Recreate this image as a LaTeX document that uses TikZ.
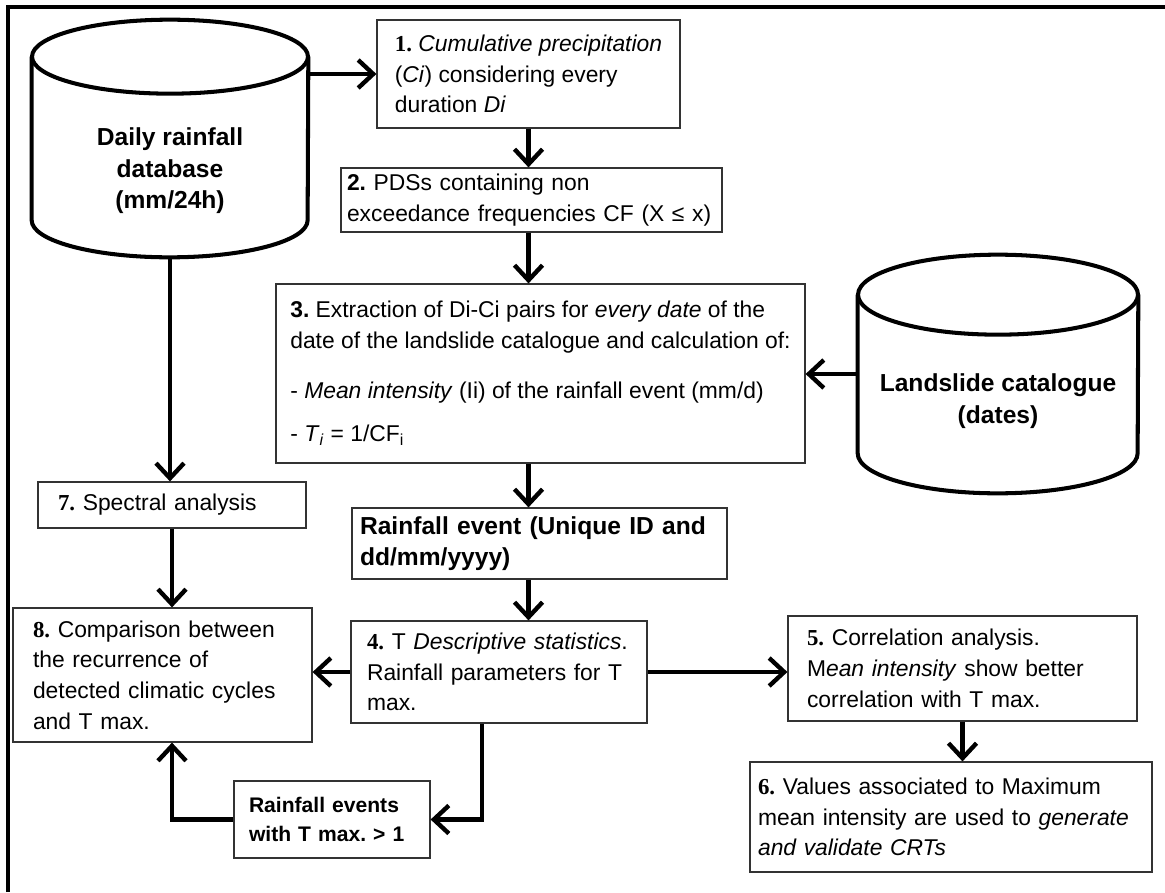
\documentclass[tikz,border=0pt]{standalone}
\usepackage{fontspec}
\setmainfont{Liberation Sans}
\newfontfamily\numfont{Liberation Serif}
\usetikzlibrary{arrows.meta}
\frenchspacing
\newcommand{\stepno}[1]{{\numfont\bfseries #1.}}
\tikzset{
  procbox/.style={draw=black!80, line width=0.7pt, rectangle, align=left, inner ysep=0pt, font=\fontsize{13}{17.5}\selectfont},
  boldbox/.style={procbox, font=\fontsize{14}{18}\selectfont\bfseries},
  cylbody/.style={inner sep=0pt},
  cyltext/.style={align=center, font=\fontsize{14}{18}\selectfont\bfseries},
  cyl/.style={line width=2.3pt},
  flow/.style={line width=2.5pt, -{Straight Barb[length=0.3cm,width=0.56cm]}}
}

\begin{document}
\begin{tikzpicture}[x=0.02cm, y=-0.02cm]
  \useasboundingbox (0,0) rectangle (1165,892);
  \draw[line width=2pt] (8,892) -- (8,7) -- (1165,7);

  % data sources
  \node[cylbody, minimum width=5.52cm, minimum height=4.74cm] (rain) at (170,138.5) {};
  \draw[cyl] ([yshift=-0.74cm]rain.north west) -- ([yshift=0.74cm]rain.south west)
    arc[start angle=180, end angle=360, x radius=2.76cm, y radius=0.74cm] -- ([yshift=-0.74cm]rain.north east);
  \draw[cyl] ([yshift=-0.74cm]rain.north) ellipse[x radius=2.76cm, y radius=0.74cm];
  \node[cyltext] (raintxt) at (170,171) {Daily rainfall\\database\\(mm/24h)};

  \node[cylbody, minimum width=5.6cm, minimum height=4.76cm] (slide) at (998,374) {};
  \draw[cyl] ([yshift=-0.8cm]slide.north west) -- ([yshift=0.8cm]slide.south west)
    arc[start angle=180, end angle=360, x radius=2.8cm, y radius=0.8cm] -- ([yshift=-0.8cm]slide.north east);
  \draw[cyl] ([yshift=-0.8cm]slide.north) ellipse[x radius=2.8cm, y radius=0.8cm];
  \node[cyltext] (slidetxt) at (998,401) {Landslide catalogue\\(dates)};

  % steps
  \node[procbox, inner xsep=0.2cm, minimum width=6.06cm, minimum height=2.16cm] (b1) at (528.5,74)
    {\stepno{1} \textit{Cumulative precipitation}\\(\textit{Ci}) considering every\\duration \textit{Di}};
  \node[procbox, text width=7.38cm, inner xsep=0.12cm, minimum height=1.28cm] (b2) at (531.5,200)
    {\textbf{2.} PDSs containing non\\exceedance frequencies CF (X ≤ x)};
  \node[procbox, inner xsep=0.2cm, minimum width=10.58cm, minimum height=3.58cm] (b3) at (540.5,373.5)
    {\textbf{3.} Extraction of Di-Ci pairs for \textit{every date} of the\\
     date of the landslide catalogue and calculation of:\\[11pt]
     - \textit{Mean intensity} (Ii) of the rainfall event (mm/d)\\[7pt]
     - \textit{T}\textsubscript{\textit{i}} = 1/CF\textsubscript{i}};
  \node[boldbox, text width=7.18cm, inner xsep=0.16cm, minimum height=1.42cm] (bre) at (539.5,543.5)
    {Rainfall event (Unique ID and\\dd/mm/yyyy)};
  \node[procbox, text width=5.28cm, inner xsep=0.32cm, minimum height=2.04cm] (b4) at (499,672)
    {\stepno{4} T \textit{Descriptive statistics}.\\Rainfall parameters for T\\max.};
  \node[procbox, text width=6.22cm, inner xsep=0.38cm, minimum height=2.1cm] (b5) at (962.5,668.5)
    {\stepno{5} Correlation analysis.\\M\textit{ean intensity} show better\\correlation with T max.};
  \node[procbox, text width=7.72cm, inner xsep=0.16cm, minimum height=2.2cm] (b6) at (951,817)
    {\stepno{6} Values associated to Maximum\\mean intensity are used to \textit{generate}\\\textit{and validate CRTs}};
  \node[procbox, text width=4.56cm, inner xsep=0.4cm, minimum height=0.92cm] (b7) at (172,505)
    {\stepno{7} Spectral analysis};
  \node[procbox, text width=5.18cm, inner xsep=0.4cm, minimum height=2.68cm] (b8) at (162.5,675)
    {\stepno{8} Comparison between\\the recurrence of\\detected climatic cycles\\and T max.};
  \node[boldbox, font=\fontsize{12}{16.5}\selectfont\bfseries, text width=3.32cm, inner xsep=0.3cm, minimum height=1.54cm] (brt) at (332,819.5)
    {Rainfall events\\with T max. > 1};

  % connectors
  \draw[flow] (b1.west -| rain.east) -- (b1.west);
  \draw[flow] (b1.south) -- (b1.south |- b2.north);
  \draw[flow] (b2.south -| b1.south) -- (b3.north -| b1.south);
  \draw[flow] (slide.west) -- (slide.west -| b3.east);
  \draw[flow] (b3.south -| b1.south) -- (bre.north -| b1.south);
  \draw[flow] (bre.south -| b1.south) -- (b4.north -| b1.south);
  \draw[flow] (rain.south) -- (rain.south |- b7.north);
  \draw[flow] (b7.south) -- (b7.south |- b8.north);
  \draw[flow] (b4.west) -- (b4.west -| b8.east);
  \draw[flow] (b4.east) -- (b4.east -| b5.west);
  \draw[flow] (b5.south) -- (b5.south |- b6.north);
  \draw[flow] ([xshift=-0.34cm]b4.south) |- (brt.east);
  \draw[flow] (brt.west) -| (b8.south -| b7.south);
\end{tikzpicture}
\end{document}
